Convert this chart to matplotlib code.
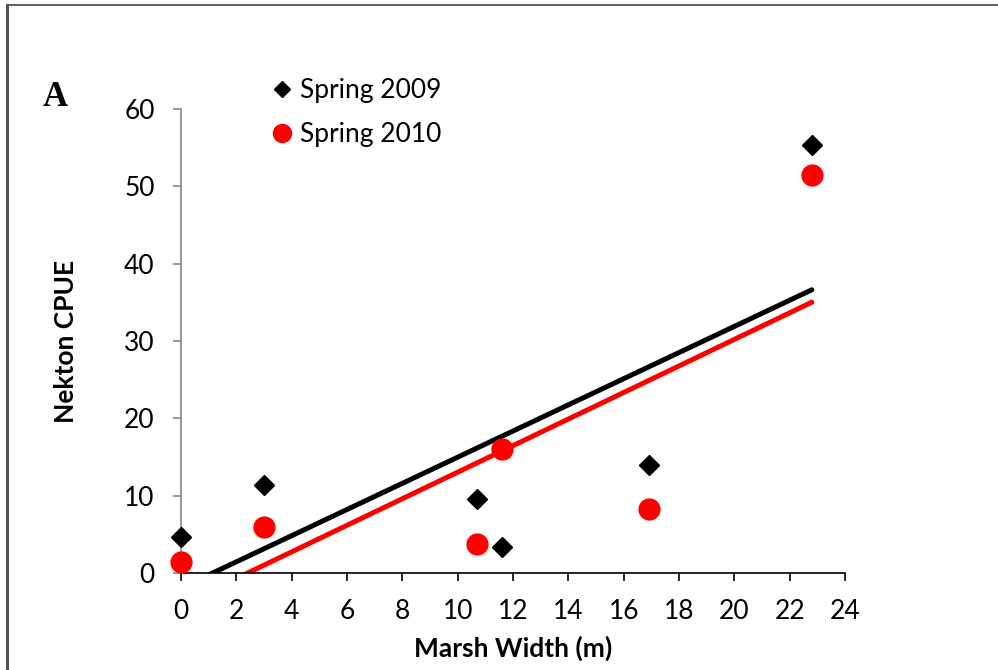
import numpy as np
import matplotlib
matplotlib.use("Agg")
import matplotlib.pyplot as plt
from matplotlib.lines import Line2D

# marsh width (m) at each site and nekton catch per unit effort
marsh_width = [0, 3, 10.7, 11.6, 16.9, 22.8]
cpue_2009 = [4.7, 11.4, 9.6, 3.3, 14.0, 55.3]
cpue_2010 = [1.4, 5.9, 3.7, 16.0, 8.3, 51.5]
series_labels = ["Spring 2009", "Spring 2010"]

x_ticks = list(range(0, 25, 2))
y_ticks = list(range(0, 61, 10))

plt.rcParams["font.family"] = ["Lato", "DejaVu Sans"]
plt.rcParams["font.size"] = 19

fig = plt.figure(figsize=(9.98, 6.7), dpi=100)
ax = fig.add_axes([0.1814, 0.1448, 0.6653, 0.6925])

x = np.array(marsh_width)
for y, color in [(cpue_2009, "black"), (cpue_2010, "red")]:
    slope, intercept = np.polyfit(x, np.array(y), 1)
    xs = np.array([0, x.max()])
    ax.plot(xs, slope * xs + intercept, color=color, lw=3.6,
            solid_capstyle="round", zorder=2)

ax.plot(marsh_width, cpue_2009, "D", color="black", ms=10.5, ls="none",
        zorder=3, clip_on=False)
ax.plot(marsh_width, cpue_2010, "o", color="red", ms=15, ls="none",
        zorder=3, clip_on=False)

ax.set_xlim(0, 24)
ax.set_ylim(0, 60)
ax.set_xticks(x_ticks)
ax.set_yticks(y_ticks)
ax.spines["top"].set_visible(False)
ax.spines["right"].set_visible(False)
ax.spines["left"].set_color("#868686")
ax.spines["bottom"].set_color("black")
ax.spines["left"].set_linewidth(1.2)
ax.spines["bottom"].set_linewidth(1.2)
ax.tick_params(axis="y", direction="out", length=6, width=1.2, color="#868686", pad=13)
ax.tick_params(axis="x", direction="out", length=6, width=1.2, color="black", pad=13)

ax.set_xlabel("Marsh Width (m)", fontweight="bold", labelpad=8)
ax.set_ylabel("Nekton CPUE", fontweight="bold", labelpad=33)

handles = [
    Line2D([], [], marker="D", color="black", ls="none", ms=8),
    Line2D([], [], marker="o", color="red", ls="none", ms=13),
]
fig.legend(handles, series_labels, loc="upper left", bbox_to_anchor=(0.264, 0.899),
           frameon=False, handlelength=0.6, handletextpad=0.4, labelspacing=0.72,
           borderaxespad=0)

fig.text(0.055, 0.855, "A", family="Liberation Serif", fontweight="bold",
         fontsize=25, ha="center", va="center")

# panel frame lines on the left and top edges
fig.add_artist(Line2D([0.007, 0.007], [0, 0.993], color="#555555", lw=2.2))
fig.add_artist(Line2D([0.007, 1.0], [0.993, 0.993], color="#555555", lw=1.3))

fig.savefig("out.png", dpi=100)
